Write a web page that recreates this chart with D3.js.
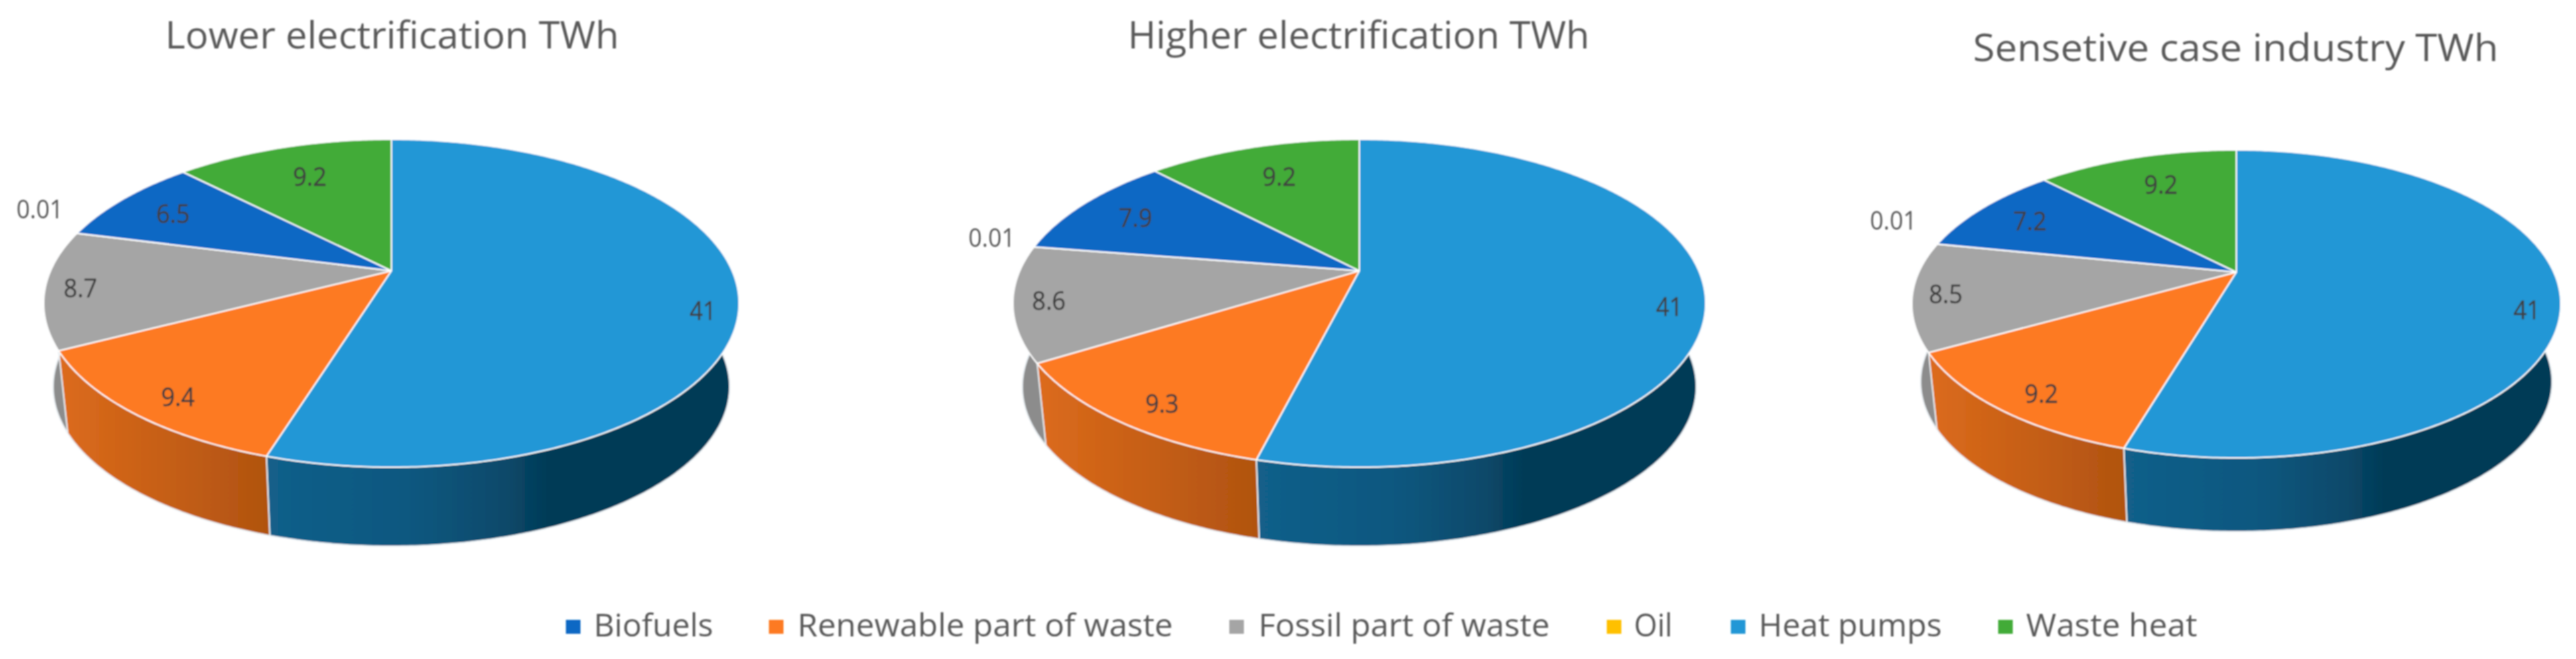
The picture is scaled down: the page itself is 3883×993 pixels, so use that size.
<!DOCTYPE html>
<html><head><meta charset="utf-8">
<script src="https://cdn.jsdelivr.net/npm/d3@7"></script>
<style>html,body{margin:0;padding:0;background:#fff}svg{display:block}</style>
</head><body><svg id="c" width="3883" height="993"></svg>
<script>
// ---- data (legend order) ----
const seriesNames = ["Biofuels","Renewable part of waste","Fossil part of waste","Oil","Heat pumps","Waste heat"];
const lowerValues  = [6.5, 9.4, 8.7, 0.01, 41, 9.2];
const higherValues = [7.9, 9.3, 8.6, 0.01, 41, 9.2];
const sensitiveValues = [7.2, 9.2, 8.5, 0.01, 41, 9.2];
const chartTitles = ["Lower electrification TWh","Higher electrification TWh","Sensetive case industry TWh"];
const sliceOrder = [4,1,2,3,0,5]; // clockwise from 12 o'clock
const seriesColors = ["#1068c4","#fd7a20","#a5a5a5","#ffc000","#2097d6","#43ab38"];

// ---- layout ----
const W = 3883, H = 993, FONT = "'Open Sans','Noto Sans',sans-serif";
const pies = [
 {values:lowerValues,  cx:590,  apex:408, rx:524, top:210, bottom:704, base:823, shrink:.973,
  title:{x0:249,x1:933,y:73}, oil:[-530,-93]},
 {values:higherValues, cx:2049, apex:408, rx:522, top:210, bottom:704, base:823, shrink:.973,
  title:{x0:1700,x1:2396,y:73}, oil:[-554,-50]},
 {values:sensitiveValues, cx:3371, apex:410, rx:489, top:226, bottom:690, base:801, shrink:.973,
  title:{x0:2974,x1:3766,y:92}, oil:[-517,-78]}
];
// per-series label placement: fraction of radius and extra downward shift
const labelFrac = [.80,.85,.90,1.1,.90,.72];
const labelDrop = [2,12,1,0,27,-2];
const legendLayout = [
 {sq:853, tx:895, te:1075},{sq:1159, tx:1202, te:1768},{sq:1853, tx:1897, te:2336},
 {sq:2422,tx:2463,te:2521},{sq:2609, tx:2651, te:2927},{sq:3012, tx:3054, te:3312}
];

const svg = d3.select("#c");
const defs = svg.append("defs");
defs.append("filter").attr("id","soft").attr("x","-5%").attr("y","-5%").attr("width","110%").attr("height","110%")
  .append("feGaussianBlur").attr("stdDeviation",0.9);
function grad(id, stops){
  const g = defs.append("linearGradient").attr("id",id).attr("x1",0).attr("x2",1).attr("y1",0).attr("y2",0);
  stops.forEach(s=>g.append("stop").attr("offset",s[0]).attr("stop-color",s[1]));
}
grad("side4",[[0,"#125f8a"],[.3,"#0f5880"],[.5,"#0a4a6b"],[.6,"#033a56"],[1,"#033a56"]]);
grad("side1",[[0,"#dc6b1c"],[1,"#b05310"]]);
grad("side2",[[0,"#8c8c8c"],[1,"#8c8c8c"]]);
const sideFill = i => ({4:"url(#side4)",1:"url(#side1)",2:"url(#side2)"}[i] || seriesColors[i]);

const root = svg.append("g").attr("filter","url(#soft)");
const pieGen = d3.pie().sort(null).value(d=>d.v);
const lineGen = d3.line().x(d=>d[0]).y(d=>d[1]);
const labelWidth = s => String(s).split("").reduce((t,c)=>t+(c==="."?.27:.513),0)*39;

pies.forEach(p=>{
  const up = p.apex-p.top, dn = p.bottom-p.apex;
  const S = 2*up*dn/(up+dn), k = (dn-up)/(up+dn), R = p.rx*Math.sqrt(1-k*k);
  const project = (a,f=1,scale=1,dy=0)=>{
    const u=Math.sin(a)*f, v=-Math.cos(a)*f, w=1-k*v;
    return [p.cx+scale*R*u/w, p.apex+dy+scale*S*v/w];
  };
  const depth = p.base-p.apex-dn*p.shrink;
  const arcs = pieGen(sliceOrder.map(i=>({i,v:p.values[i]})));
  const samples = (a0,a1)=>{const n=Math.max(2,Math.ceil((a1-a0)/0.01));return d3.range(n+1).map(j=>a0+(a1-a0)*j/n);};
  const g = root.append("g");

  // sides (only the front-facing arc range is needed)
  const lo=Math.PI*.47, hi=Math.PI*1.53;
  arcs.forEach(a=>{
    const a0=Math.max(a.startAngle,lo), a1=Math.min(a.endAngle,hi);
    if(a1<=a0) return;
    const s=samples(a0,a1);
    const pts=s.map(t=>project(t)).concat(s.slice().reverse().map(t=>project(t,1,p.shrink,depth)));
    g.append("path").attr("d",lineGen(pts)+"Z").attr("fill",sideFill(a.data.i))
      .attr("stroke","#e8eef2").attr("stroke-width",2);
  });
  // top face
  arcs.forEach(a=>{
    const pts=[project(0,0)].concat(samples(a.startAngle,a.endAngle).map(t=>project(t)));
    g.append("path").attr("d",lineGen(pts)+"Z").attr("fill",seriesColors[a.data.i])
      .attr("stroke","#fff").attr("stroke-width",2).attr("stroke-linejoin","round");
  });
  // value labels
  arcs.forEach(a=>{
    const i=a.data.i, mid=(a.startAngle+a.endAngle)/2;
    const q=i===3?[p.cx+p.oil[0],p.apex+p.oil[1]]:project(mid,labelFrac[i]);
    g.append("text").attr("x",q[0]).attr("y",q[1]+(i===3?0:labelDrop[i])).attr("dy","0.36em")
      .attr("text-anchor","middle").attr("font-family",FONT).attr("font-size",39)
      .attr("fill",i===3?"#595959":"#404040")
      .attr("stroke",i===3?"none":"#404040").attr("stroke-width",.5)
      .attr("textLength",labelWidth(a.data.v)).attr("lengthAdjust","spacingAndGlyphs").text(a.data.v);
  });
});

// titles
pies.forEach((p,i)=>{
  root.append("text").attr("x",p.title.x0).attr("y",p.title.y).attr("font-family",FONT)
    .attr("font-size",56).attr("fill","#595959")
    .attr("textLength",p.title.x1-p.title.x0).attr("lengthAdjust","spacingAndGlyphs").text(chartTitles[i]);
});
// legend
seriesNames.forEach((n,i)=>{
  const l=legendLayout[i];
  root.append("rect").attr("x",l.sq).attr("y",934).attr("width",22).attr("height",21).attr("fill",seriesColors[i]);
  root.append("text").attr("x",l.tx).attr("y",959).attr("font-family",FONT).attr("font-size",48).attr("fill","#595959")
    .attr("textLength",l.te-l.tx).attr("lengthAdjust","spacingAndGlyphs").text(n);
});
</script></body></html>
